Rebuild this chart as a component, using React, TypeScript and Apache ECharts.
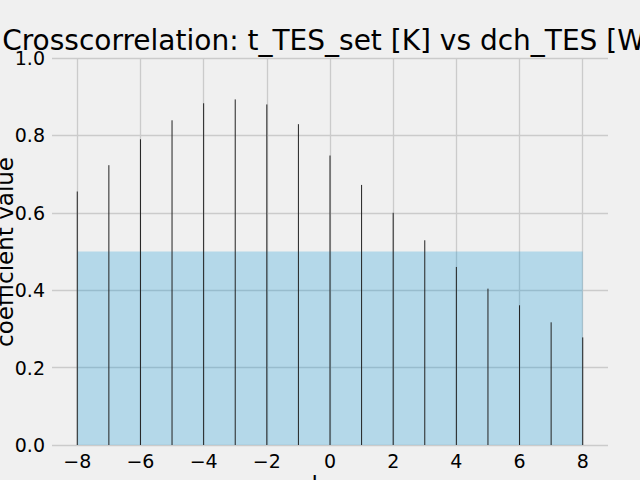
import React, { useEffect, useRef } from "react";
import * as echarts from "echarts";

const lags = [-8, -7, -6, -5, -4, -3, -2, -1, 0, 1, 2, 3, 4, 5, 6, 7, 8];
const ccf = [
  0.655, 0.723, 0.79, 0.839, 0.883, 0.893, 0.88, 0.829, 0.748, 0.672, 0.6,
  0.529, 0.46, 0.404, 0.361, 0.317, 0.278,
];
const confBand = 0.5;
const xTicks = [-8, -6, -4, -2, 0, 2, 4, 6, 8];
const yTicks = [0, 0.2, 0.4, 0.6, 0.8, 1.0];

const titleText = "Crosscorrelation: t_TES_set [K] vs dch_TES [W]";
const xName = "lag";
const yName = "coefficient value";

const FONT = '"DejaVu Sans", sans-serif';

const App: React.FC = () => {
  const chartRef = useRef<HTMLDivElement>(null);

  useEffect(() => {
    document.body.style.margin = "0";
    const chart = echarts.init(chartRef.current!, undefined, {
      renderer: "svg",
    });

    const points = lags.map((l, i) => [l, ccf[i]]);
    const gridStyle = { color: "#cbcbcb", width: 1.3 };

    const option: echarts.EChartsOption = {
      animation: false,
      backgroundColor: "#f0f0f0",
      grid: { left: 52, right: 32, top: 58, bottom: 35 },
      xAxis: {
        type: "value",
        min: -8.8,
        max: 8.8,
        axisLine: { show: false },
        axisTick: { show: false, customValues: xTicks },
        axisLabel: {
          customValues: xTicks,
          margin: 6,
          fontFamily: FONT,
          fontSize: 19,
          color: "#000",
          formatter: (v: number) => (v < 0 ? "\u2212" + Math.abs(v) : String(v)),
        },
        splitLine: { show: true, lineStyle: gridStyle },
      },
      yAxis: {
        type: "value",
        min: yTicks[0],
        max: yTicks[yTicks.length - 1],
        interval: 0.2,
        axisLine: { show: false },
        axisTick: { show: false },
        axisLabel: {
          margin: 7,
          fontFamily: FONT,
          fontSize: 19,
          color: "#000",
          formatter: (v: number) => v.toFixed(1),
        },
        splitLine: { show: true, lineStyle: gridStyle },
      },
      graphic: [
        {
          type: "text",
          x: 329,
          y: 40,
          style: {
            text: titleText,
            font: `28px ${FONT}`,
            fill: "#000",
            align: "center",
            verticalAlign: "middle",
          },
        },
        {
          type: "text",
          x: 329,
          y: 485,
          style: {
            text: xName,
            font: `23px ${FONT}`,
            fill: "#000",
            align: "center",
            verticalAlign: "middle",
          },
        },
        {
          type: "text",
          x: 5,
          y: 252,
          rotation: Math.PI / 2,
          style: {
            text: yName,
            font: `23px ${FONT}`,
            fill: "#000",
            align: "center",
            verticalAlign: "middle",
          },
        },
      ],
      series: [
        {
          type: "line",
          z: 1,
          data: points,
          showSymbol: false,
          silent: true,
          lineStyle: { opacity: 0 },
          markArea: {
            silent: true,
            itemStyle: { color: "rgba(0,143,213,0.25)" },
            data: [
              [
                { coord: [lags[0], 0] },
                { coord: [lags[lags.length - 1], confBand] },
              ],
            ],
          },
        },
        {
          type: "custom",
          z: 3,
          data: points,
          renderItem: (params: any, api: any) => {
            const top = api.coord([api.value(0), api.value(1)]);
            const base = api.coord([api.value(0), 0]);
            return {
              type: "line",
              shape: { x1: top[0], y1: base[1], x2: top[0], y2: top[1] },
              style: { stroke: "#222", lineWidth: 1 },
            };
          },
        },
      ],
    };

    chart.setOption(option);

    return () => {
      chart.dispose();
    };
  }, []);

  return <div ref={chartRef} style={{ width: "640px", height: "480px" }} />;
};

export default App;
